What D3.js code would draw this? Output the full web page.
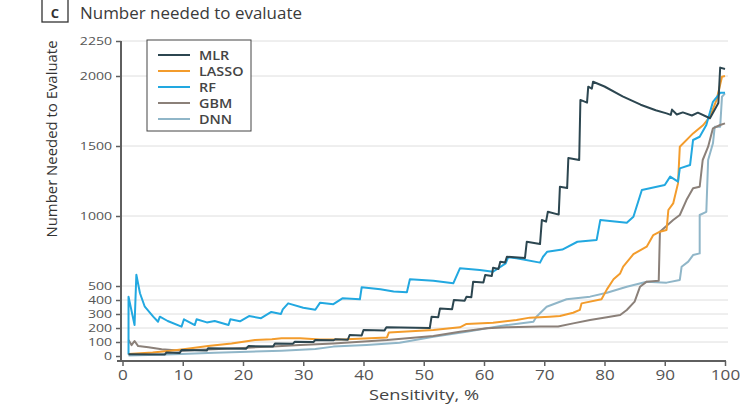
<!DOCTYPE html>
<html>
<head>
<meta charset="utf-8">
<script src="https://cdn.jsdelivr.net/npm/d3@7"></script>
<style>
  html, body { margin: 0; padding: 0; background: #fff; }
  svg { display: block; }
  text { font-family: "Open Sans", "DejaVu Sans", sans-serif; }
</style>
</head>
<body>
<svg id="chart" width="755" height="406"></svg>
<script>
// Number needed to evaluate versus sensitivity (%) for each model
const seriesNames = ["MLR", "LASSO", "RF", "GBM", "DNN"];
const xTicks = [0, 10, 20, 30, 40, 50, 60, 70, 80, 90, 100];
const yTicks = [0, 100, 200, 300, 400, 500, 1000, 1500, 2000, 2250];

const mlr = [[1,12],[7,10],[7.3,25],[9.5,22],[9.8,43],[14,40],[14.2,55],[20.5,52],[20.9,71],[25,68],[25.3,90],[28.3,88],[28.6,102],[31.7,100],[32,114],[35,112],[35.3,119],[37.4,116],[37.7,150],[39.7,147],[40,186],[43.5,183],[43.8,205],[51,200],[51.3,281],[52.4,276],[52.7,340],[54.7,334],[55,400],[56.8,395],[57.1,424],[57.9,420],[58.2,531],[59.9,525],[60.2,579],[61.3,572],[61.5,630],[62.4,622],[62.7,674],[63.5,668],[63.8,709],[66.8,700],[67.1,816],[69.3,800],[69.6,971],[70.3,960],[70.6,1031],[72.4,1010],[72.6,1209],[73.8,1200],[74,1414],[75.8,1400],[76,1829],[77.1,1810],[77.3,1924],[77.9,1910],[78.1,1959],[80,1925],[83,1855],[86,1795],[88.5,1755],[90.3,1733],[91,1722],[91.2,1760],[92,1725],[93,1740],[94.5,1718],[95.5,1738],[97.5,1698],[98.9,1807],[99.2,2060],[100,2050]];

const lasso = [[1,15],[5,25],[8,38],[10.1,48],[14.2,71],[18.1,90],[22,114],[24.8,119],[26.4,126],[29.5,126],[32.8,118],[37.2,119],[43.9,133],[44.2,167],[51.6,186],[56,205],[57.1,229],[61.5,238],[65.4,257],[67.6,274],[70.9,281],[72.6,286],[74.8,309],[75.9,329],[76.2,376],[79.5,405],[80.4,476],[81.5,548],[82.6,590],[83.1,638],[84.8,727],[87,781],[88.1,864],[89.2,888],[90.3,900],[90.6,1043],[91.4,1090],[92.2,1233],[92.5,1495],[94.7,1590],[96.4,1650],[97.5,1710],[98.6,1829],[99.5,1995],[100,2000]];

const rf = [[1,10],[1,424],[2,221],[2.3,580],[2.9,448],[3.7,352],[5.1,281],[5.9,245],[6.2,281],[7.5,250],[9.8,210],[10.2,262],[12,221],[12.3,262],[14,240],[15.3,250],[17.6,221],[17.9,262],[19.5,248],[21,285],[23,270],[24.7,315],[26.3,300],[26.6,333],[27.5,376],[30,345],[32,330],[32.8,381],[35,370],[36.5,412],[39.4,405],[39.7,491],[42.8,476],[45,460],[47.2,455],[47.7,548],[51.6,538],[54.9,519],[56,626],[59.3,614],[61.5,602],[63.6,662],[64,705],[65.4,698],[69.3,667],[69.8,709],[70.5,745],[73,760],[75.5,816],[78.7,829],[79.3,971],[83.7,952],[84.8,995],[86.2,1186],[90,1221],[90.9,1281],[92.2,1245],[92.5,1340],[94.2,1364],[94.7,1543],[95.8,1566],[96.9,1650],[98,1816],[99.2,1880],[100,1880]];

const gbm = [[1,114],[1.5,78],[2,107],[2.6,71],[4.3,62],[6.5,48],[9.8,38],[12,42],[15,48],[20,58],[25,68],[29.5,79],[35,90],[43.9,114],[51.6,143],[56,174],[60.5,198],[63.8,205],[69.3,210],[72.3,210],[74.8,233],[77.6,257],[80.4,276],[82.6,293],[83.7,329],[85,388],[85.9,495],[87,531],[89,538],[89.2,888],[91.4,971],[92.5,1007],[93.6,1114],[94.7,1198],[95.8,1209],[96.3,1400],[97.2,1495],[98,1626],[99.2,1650],[100,1662]];

const dnn = [[1,3],[4.3,7],[9.8,14],[15.3,24],[20.9,31],[26.4,38],[32,50],[35,67],[40.5,79],[46,95],[51.6,138],[57.1,174],[60.5,198],[63.8,221],[68.2,245],[68.7,281],[70.4,352],[73.7,405],[77.6,424],[80.4,452],[83.7,495],[87,531],[90.3,524],[92.5,543],[92.8,638],[93.9,674],[94.7,721],[95.8,733],[95.8,1007],[96.9,1030],[97.2,1400],[98,1519],[98.3,1638],[99.2,1638],[99.5,1852],[100,1876]];

const colors = { MLR: "#2c4650", LASSO: "#f39c2c", RF: "#22a8e0", GBM: "#8b8079", DNN: "#90b6c8" };
const dataByName = { MLR: mlr, LASSO: lasso, RF: rf, GBM: gbm, DNN: dnn };
const drawOrder = ["DNN", "GBM", "LASSO", "RF", "MLR"];

const svg = d3.select("#chart");
const x = d3.scaleLinear().domain([0, 100]).range([122.5, 725]);
const y = d3.scaleLinear().domain([0, 2250]).range([356, 41]);
const axisColor = "#5f5f5f";
const labelColor = "#555";

// Panel title
svg.append("rect").attr("x", 42).attr("y", -2).attr("width", 26).attr("height", 24)
  .attr("fill", "none").attr("stroke", "#333").attr("stroke-width", 1.3);
svg.append("text").attr("x", 55).attr("y", 18).attr("text-anchor", "middle")
  .attr("font-size", 13).attr("font-weight", 700).attr("fill", "#333").text("C");
svg.append("text").attr("x", 80).attr("y", 19).attr("font-size", 15.5).attr("fill", "#3a3a3a")
  .attr("textLength", 222).attr("lengthAdjust", "spacingAndGlyphs").text("Number needed to evaluate");

// Horizontal grid
svg.append("g").selectAll("line").data(yTicks.filter(d => d > 0)).join("line")
  .attr("x1", 121).attr("x2", 728).attr("y1", d => y(d)).attr("y2", d => y(d))
  .attr("stroke", "#dedede").attr("stroke-width", 1);

// Y axis
const yScaleX = 1.28;
const yAxis = svg.append("g").attr("transform", "translate(121,0)")
  .call(d3.axisLeft(y).tickValues(yTicks).tickSize(5).tickSizeOuter(0).tickFormat(d3.format("d")));
yAxis.select(".domain").remove();
yAxis.selectAll(".tick line").attr("stroke", axisColor).attr("stroke-width", 1.5);
yAxis.selectAll(".tick text").attr("font-size", 11).attr("fill", labelColor)
  .attr("font-family", "Open Sans, sans-serif")
  .attr("x", -9 / yScaleX).attr("transform", `scale(${yScaleX},1)`);
svg.append("line").attr("x1", 121).attr("x2", 121).attr("y1", 41).attr("y2", 361)
  .attr("stroke", axisColor).attr("stroke-width", 2);

// X axis
const xAxis = svg.append("g").attr("transform", "translate(0,361)")
  .call(d3.axisBottom(x).tickValues(xTicks).tickSize(5).tickSizeOuter(0));
xAxis.select(".domain").remove();
xAxis.selectAll(".tick line").attr("stroke", axisColor).attr("stroke-width", 1.5);
xAxis.selectAll(".tick text").attr("font-size", 14).attr("fill", labelColor)
  .attr("font-family", "Open Sans, sans-serif")
  .attr("y", 19).attr("dy", 0).attr("transform", "scale(1.22,1)");
svg.append("line").attr("x1", 117).attr("x2", 726).attr("y1", 361).attr("y2", 361)
  .attr("stroke", axisColor).attr("stroke-width", 2);

// Axis titles
svg.append("text").attr("transform", "translate(57,139) rotate(-90)")
  .attr("text-anchor", "middle").attr("font-size", 15).attr("fill", "#333")
  .attr("font-family", "Liberation Sans Narrow, DejaVu Sans Condensed, sans-serif")
  .attr("textLength", 197).attr("lengthAdjust", "spacingAndGlyphs")
  .text("Number Needed to Evaluate");
svg.append("text").attr("x", 424).attr("y", 400).attr("text-anchor", "middle")
  .attr("font-size", 14).attr("fill", "#444")
  .attr("textLength", 110).attr("lengthAdjust", "spacingAndGlyphs").text("Sensitivity, %");

// Curves
const line = d3.line().x(d => x(d[0])).y(d => y(d[1])).curve(d3.curveLinear);
svg.append("g").selectAll("path").data(drawOrder).join("path")
  .attr("d", name => line(dataByName[name]))
  .attr("fill", "none").attr("stroke", name => colors[name])
  .attr("stroke-width", 2).attr("stroke-linejoin", "round");

// Legend
const legend = svg.append("g");
legend.append("rect").attr("x", 147).attr("y", 40).attr("width", 104).attr("height", 91)
  .attr("fill", "#fff").attr("stroke", "#444").attr("stroke-width", 1);
const rows = legend.selectAll("g.row").data(seriesNames).join("g").attr("class", "row")
  .attr("transform", (d, i) => `translate(0,${55 + i * 16})`);
rows.append("line").attr("x1", 158).attr("x2", 190).attr("stroke", d => colors[d]).attr("stroke-width", 2);
rows.append("text").attr("x", 199).attr("y", 4.5).attr("font-size", 12).attr("font-weight", 600)
  .attr("fill", "#444").attr("transform", "translate(199,0) scale(1.2,1) translate(-199,0)").text(d => d);
</script>
</body>
</html>
